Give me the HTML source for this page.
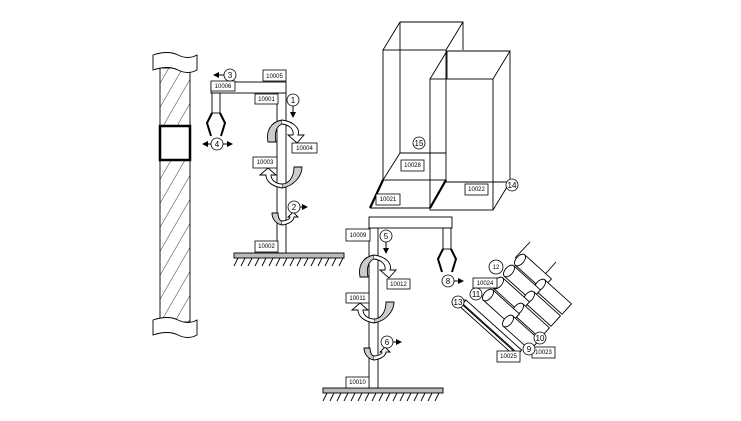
<!DOCTYPE html>
<html><head><meta charset="utf-8"><style>
html,body{margin:0;padding:0;background:#fff;}
svg{display:block;font-family:"Liberation Sans",sans-serif;}
text{font-size:6px;fill:#000;}
.c text{font-size:8px;}
</style></head><body>
<svg width="741" height="421" viewBox="0 0 741 421">
<defs>
<pattern id="hatch" width="12" height="12" patternUnits="userSpaceOnUse" patternTransform="rotate(30)">
<line x1="0" y1="0" x2="0" y2="12" stroke="#000" stroke-width="0.8"/>
</pattern>
<marker id="ah" markerWidth="6" markerHeight="6" refX="5" refY="3" orient="auto"><path d="M0,0 L6,3 L0,6z" fill="#000"/></marker>
</defs>
<g fill="none" stroke="#000" stroke-width="0.9">

<g>
<rect x="160" y="68" width="30" height="254" fill="url(#hatch)" stroke="#000"/>
<path d="M153,55 Q168,50 178,55 Q188,60 197,55 L197,70 Q188,75 178,70 Q168,65 153,70z" fill="#fff"/>
<path d="M153,320 Q168,315 178,320 Q188,325 197,320 L197,335 Q188,340 178,335 Q168,330 153,335z" fill="#fff"/>
<rect x="160" y="126" width="30" height="34" fill="#fff" stroke-width="2.5"/>
</g>

<g>
<rect x="234" y="253" width="110" height="5" fill="#bbb"/>
<path d="M238,258 l-4,8 M245,258 l-4,8 M252,258 l-4,8 M259,258 l-4,8 M266,258 l-4,8 M273,258 l-4,8 M280,258 l-4,8 M287,258 l-4,8 M294,258 l-4,8 M301,258 l-4,8 M308,258 l-4,8 M315,258 l-4,8 M322,258 l-4,8 M329,258 l-4,8 M336,258 l-4,8 M343,258 l-4,8"/>
<rect x="277" y="93" width="9" height="160" fill="#fff"/>
<rect x="211" y="82" width="75" height="11" fill="#fff"/>
<rect x="212" y="93" width="8" height="20" fill="#fff"/>
<path d="M212,113 l-5,10 l4,13 M220,113 l5,10 l-4,13" stroke-width="2"/>
<path d="M282,120 C270,122 266,132 268,142 L276,142 C274,132 277,126 282,124z" fill="#ccc"/>
<path d="M282,120 C296,122 300,130 298,135 L304,135 L297,143 L288,135 L293,135 C294,130 290,125 282,124" fill="#fff"/>
<path d="M282,188 C294,186 302,176 302,167 L294,167 C294,178 288,184 282,184z" fill="#ccc"/>
<path d="M282,188 C270,186 266,180 266,175 L260,175 L268,168 L276,175 L271,175 C271,180 276,184 282,184" fill="#fff"/>
<path d="M282,225 C276,224 272,219 272,213 L278,213 C278,218 280,221 282,221z" fill="#ccc"/>
<path d="M282,225 C290,224 294,220 294,217 L298,217 L293,212 L288,217 L290,217 C290,219 286,221 282,221" fill="#fff"/>
</g>

<g>
<rect x="323" y="388" width="120" height="5" fill="#bbb"/>
<path d="M327,393 l-4,8 M334,393 l-4,8 M341,393 l-4,8 M348,393 l-4,8 M355,393 l-4,8 M362,393 l-4,8 M369,393 l-4,8 M376,393 l-4,8 M383,393 l-4,8 M390,393 l-4,8 M397,393 l-4,8 M404,393 l-4,8 M411,393 l-4,8 M418,393 l-4,8 M425,393 l-4,8 M432,393 l-4,8 M439,393 l-4,8"/>
<rect x="369" y="228" width="9" height="160" fill="#fff"/>
<rect x="369" y="217" width="83" height="11" fill="#fff"/>
<rect x="443" y="228" width="8" height="21" fill="#fff"/>
<path d="M443,249 l-5,10 l4,13 M451,249 l5,10 l-4,13" stroke-width="2"/>
<path d="M374,255 C362,257 358,267 360,277 L368,277 C366,267 369,261 374,259z" fill="#ccc"/>
<path d="M374,255 C388,257 392,265 390,270 L396,270 L389,278 L380,270 L385,270 C386,265 382,260 374,259" fill="#fff"/>
<path d="M374,323 C386,321 394,311 394,302 L386,302 C386,313 380,319 374,319z" fill="#ccc"/>
<path d="M374,323 C362,321 358,315 358,310 L352,310 L360,303 L368,310 L363,310 C363,315 368,319 374,319" fill="#fff"/>
<path d="M374,360 C368,359 364,354 364,348 L370,348 C370,353 372,356 374,356z" fill="#ccc"/>
<path d="M374,360 C382,359 386,355 386,352 L390,352 L385,347 L380,352 L382,352 C382,354 378,356 374,356" fill="#fff"/>
</g>

<g>
<rect x="383" y="50" width="63" height="130"/>
<path d="M400,22 L463,22 L463,50 M400,22 L400,153 L446,153 M383,50 L400,22 M446,50 L463,22 M383,180 L400,153"/>
<path d="M370,208 L383,180 M430,208 L446,180" stroke-width="2.2"/>
<path d="M370,208 L430,208"/>
</g>
<g>
<rect x="430" y="79" width="63" height="131" fill="none"/>
<path d="M447,51 L510,51 L510,182 L493,210 M447,51 L447,79 M430,79 L447,51 M493,79 L510,51 M446,182 L510,182"/>
</g>

<g>
<path d="M515,258 L530,242 M540,280 L556,262"/>
<g transform="translate(466,300) rotate(42)"><rect x="0" y="0" width="75" height="6" fill="#fff"/><path d="M0,0 l-5,5 L70,5 M-5,5 l0,4 L70,9"/></g>
<g fill="#fff">
<g transform="translate(520,260) rotate(42)"><rect x="0" y="-7" width="36" height="14"/><ellipse cx="0" cy="0" rx="4" ry="7"/></g>
<g transform="translate(540,285) rotate(42)"><rect x="0" y="-7" width="36" height="14"/><ellipse cx="0" cy="0" rx="4" ry="7"/></g>
<g transform="translate(509,271) rotate(42)"><rect x="0" y="-7" width="36" height="14"/><ellipse cx="0" cy="0" rx="4" ry="7"/></g>
<g transform="translate(529,297) rotate(42)"><rect x="0" y="-7" width="36" height="14"/><ellipse cx="0" cy="0" rx="4" ry="7"/></g>
<g transform="translate(498,283) rotate(42)"><rect x="0" y="-7" width="36" height="14"/><ellipse cx="0" cy="0" rx="4" ry="7"/></g>
<g transform="translate(518,309) rotate(42)"><rect x="0" y="-7" width="36" height="14"/><ellipse cx="0" cy="0" rx="4" ry="7"/></g>
<g transform="translate(488,295) rotate(42)"><rect x="0" y="-7" width="36" height="14"/><ellipse cx="0" cy="0" rx="4" ry="7"/></g>
<g transform="translate(508,321) rotate(42)"><rect x="0" y="-7" width="36" height="14"/><ellipse cx="0" cy="0" rx="4" ry="7"/></g>
</g>
</g>

<g stroke-width="1" marker-end="url(#ah)">
<line x1="224" y1="75" x2="214" y2="75"/>
<line x1="293" y1="106" x2="293" y2="117"/>
<line x1="300" y1="207" x2="307" y2="207"/>
<line x1="211" y1="144" x2="203" y2="144"/>
<line x1="223" y1="144" x2="232" y2="144"/>
<line x1="386" y1="242" x2="386" y2="253"/>
<line x1="393" y1="342" x2="401" y2="342"/>
<line x1="454" y1="281" x2="463" y2="281"/>
</g>
</g>

<g stroke="#000" stroke-width="0.8" fill="#fff">
<rect x="263" y="70" width="23" height="11"/><rect x="211" y="81" width="24" height="10"/>
<rect x="255" y="94" width="23" height="10"/><rect x="292" y="143" width="25" height="10"/>
<rect x="253" y="157" width="24" height="11"/><rect x="255" y="241" width="23" height="11"/>
<rect x="346" y="229" width="24" height="12"/><rect x="387" y="279" width="23" height="10"/>
<rect x="346" y="293" width="23" height="10"/><rect x="346" y="377" width="23" height="11"/>
<rect x="473" y="278" width="24" height="10"/><rect x="532" y="347" width="23" height="11"/>
<rect x="497" y="351" width="23" height="11"/><rect x="401" y="160" width="23" height="11"/>
<rect x="376" y="194" width="24" height="11"/><rect x="465" y="184" width="23" height="11"/>
</g>
<g text-anchor="middle">
<text x="274.5" y="78">10005</text>
<text x="223" y="88">10006</text>
<text x="266.5" y="101">10001</text>
<text x="304.5" y="150">10004</text>
<text x="265" y="164">10003</text>
<text x="266.5" y="248">10002</text>
<text x="358" y="237">10009</text>
<text x="398.5" y="286">10012</text>
<text x="357.5" y="300">10011</text>
<text x="357.5" y="384">10010</text>
<text x="485" y="285">10024</text>
<text x="543.5" y="354">10023</text>
<text x="508.5" y="358">10025</text>
<text x="412.5" y="167">10028</text>
<text x="388" y="201">10021</text>
<text x="476.5" y="191">10022</text>
</g>
<g class="c" stroke="#000" stroke-width="0.8">
<g fill="#fff"><circle cx="230" cy="75" r="6"/><circle cx="293" cy="100" r="6"/><circle cx="294" cy="207" r="6"/><circle cx="217" cy="144" r="6"/><circle cx="386" cy="236" r="6"/><circle cx="387" cy="342" r="6"/><circle cx="448" cy="281" r="6"/><circle cx="458" cy="302" r="6"/><circle cx="476" cy="294" r="6"/><circle cx="496" cy="267" r="7"/><circle cx="540" cy="338" r="6"/><circle cx="529" cy="349" r="6"/><circle cx="419" cy="143" r="6"/><circle cx="512" cy="185" r="6"/></g>
</g>
<g class="c" text-anchor="middle">
<text x="230" y="78">3</text><text x="293" y="103">1</text><text x="294" y="210">2</text><text x="217" y="147">4</text>
<text x="386" y="239">5</text><text x="387" y="345">6</text><text x="448" y="284">8</text><text x="458" y="305">13</text>
<text x="476" y="297">11</text><text x="496" y="269" style="font-size:6px">12</text><text x="540" y="341">10</text><text x="529" y="352">9</text>
<text x="419" y="146">15</text><text x="512" y="188">14</text>
</g>
</svg>
</body></html>
